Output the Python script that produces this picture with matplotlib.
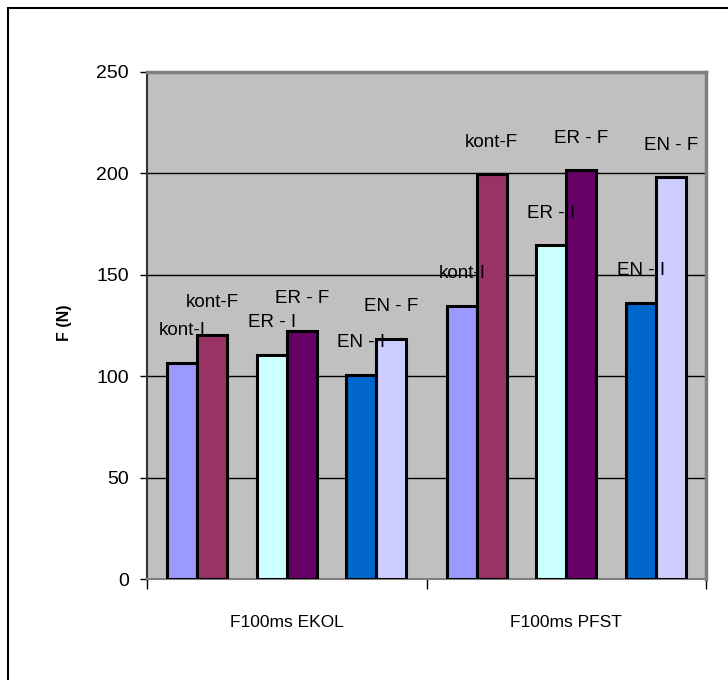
import numpy as np
import matplotlib.pyplot as plt
from matplotlib.patches import Rectangle

plt.rcParams['font.family'] = ['Liberation Sans', 'DejaVu Sans']

categories = ["F100ms EKOL", "F100ms PFST"]
series_names = ["kont-I", "kont-F", "ER - I", "ER - F", "EN - I", "EN - F"]
kont_i = [106.5, 134.5]
kont_f = [120.5, 199.5]
er_i = [110.5, 164.5]
er_f = [122.5, 201.5]
en_i = [100.5, 136.0]
en_f = [118.5, 198.0]
y_ticks = [0, 50, 100, 150, 200, 250]

series_values = [kont_i, kont_f, er_i, er_f, en_i, en_f]
colors = ["#9999FF", "#993366", "#CCFFFF", "#660066", "#0066CC", "#CCCCFF"]

fig = plt.figure(figsize=(7.28, 6.8), dpi=100)
ax = fig.add_axes([147 / 728, 1 - 579 / 680, 559 / 728, 507 / 680])

# bars come in I/F pairs, three pairs per category
bar_w = 0.107
pair_offsets = [-0.32, 0.0, 0.32]
centers = np.arange(len(categories)) + 0.5

for i, (name, vals, col) in enumerate(zip(series_names, series_values, colors)):
    pair = i // 2
    side = -0.5 if i % 2 == 0 else 0.5
    xs = centers + pair_offsets[pair] + side * bar_w
    ax.bar(xs, vals, width=bar_w, color=col, edgecolor="black", linewidth=2.2, zorder=3)
    for x, v in zip(xs, vals):
        ax.annotate(name, (x, v), xytext=(0, 20), textcoords="offset points",
                    ha="center", va="baseline", fontsize=13.5, zorder=5)

ax.set_facecolor("#C0C0C0")
ax.set_xlim(0, len(categories))
ax.set_ylim(0, 250)
ax.set_yticks(y_ticks)
ax.yaxis.grid(True, color="black", linewidth=1.0, zorder=1)
ax.set_axisbelow(True)

ax.set_xticks([0, 1, 2])
ax.set_xticklabels([])
ax.set_xticks(centers, minor=True)
ax.set_xticklabels(categories, minor=True, fontsize=12.5)
ax.tick_params(axis="x", which="major", length=7, width=1, color="black", direction="out")
ax.tick_params(axis="x", which="minor", length=0, pad=26)
ax.tick_params(axis="y", length=5, width=1, pad=8, labelsize=14, direction="out")

for side in ["top", "right"]:
    ax.spines[side].set_color("#808080")
    ax.spines[side].set_linewidth(2.5)
ax.spines["left"].set_color("#333333")
ax.spines["left"].set_linewidth(1.5)
ax.spines["bottom"].set_color("#808080")
ax.spines["bottom"].set_linewidth(1.5)

fig.text(65 / 728, 1 - 323 / 680, "F (N)", rotation=90, ha="center", va="center",
         fontsize=11.5, fontweight="bold")

# chart area frame
fig.patches.append(Rectangle((8 / 728, -0.1), 1.2, 1 - 8 / 680 + 0.1,
                             transform=fig.transFigure, fill=False,
                             edgecolor="black", linewidth=1.5))

fig.savefig("out.png", dpi=100)
